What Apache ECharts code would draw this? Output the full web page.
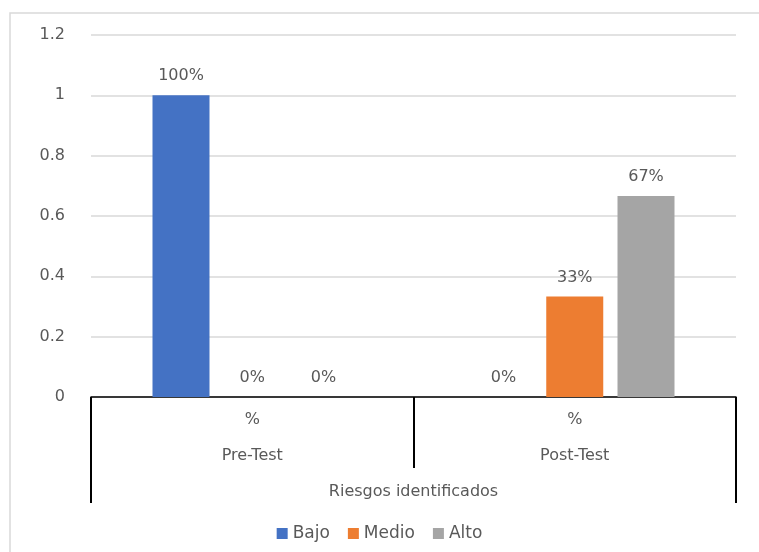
<!DOCTYPE html>
<html>
<head>
<meta charset="utf-8">
<script src="https://cdn.jsdelivr.net/npm/echarts@6/dist/echarts.min.js"></script>
<style>
  html, body { margin: 0; padding: 0; background: #fff; }
  #main { width: 759px; height: 552px; }
</style>
</head>
<body>
<div id="main"></div>
<script>
var grupos = ['Pre-Test', 'Post-Test'];
var nivel = '%';
var titulo = 'Riesgos identificados';
var bajo = [1, 0];
var medio = [0, 0.3333];
var alto = [0, 0.6667];

var txt = '#595959';
var fuente = 'DejaVu Sans';

function serie(nombre, datos, color) {
    return {
        name: nombre,
        type: 'bar',
        data: datos,
        barWidth: 57,
        barGap: '25%',
        itemStyle: { color: color },
        label: {
            show: true,
            position: 'top',
            distance: 11,
            color: txt,
            fontFamily: fuente,
            fontSize: 16,
            formatter: function (p) { return Math.round(p.value * 100) + '%'; }
        }
    };
}

var chart = echarts.init(document.getElementById('main'));
var option = {
    animation: false,
    textStyle: { fontFamily: fuente },
    graphic: [{
        type: 'rect',
        shape: { x: 10, y: 13, width: 800, height: 600 },
        style: { fill: 'none', stroke: '#d9d9d9', lineWidth: 1.5 },
        silent: true
    }],
    grid: { left: 91, right: 23, top: 35, bottom: 155 },
    legend: {
        top: 520,
        left: 'center',
        icon: 'rect',
        itemWidth: 11,
        itemHeight: 11,
        itemGap: 18,
        textStyle: { color: txt, fontSize: 17, fontFamily: fuente },
        data: ['Bajo', 'Medio', 'Alto']
    },
    xAxis: [
        {
            type: 'category',
            data: grupos,
            axisLine: { lineStyle: { color: '#000', width: 1.5 } },
            axisTick: { show: true, length: 71, lineStyle: { color: '#000', width: 2 } },
            axisLabel: {
                margin: 5,
                formatter: function (v) { return '{a|' + nivel + '}\n{a|' + v + '}'; },
                rich: {
                    a: { color: txt, fontSize: 16, fontFamily: fuente, lineHeight: 36 }
                }
            }
        },
        {
            type: 'category',
            data: [titulo],
            position: 'bottom',
            axisLine: { show: false },
            axisTick: { show: true, length: 106, lineStyle: { color: '#000', width: 2 } },
            axisLabel: { margin: 87, color: txt, fontSize: 16, fontFamily: fuente },
            splitLine: { show: false }
        }
    ],
    yAxis: {
        type: 'value',
        min: 0,
        max: 1.2,
        interval: 0.2,
        axisLine: { show: false },
        axisTick: { show: false },
        axisLabel: { margin: 26, color: txt, fontSize: 16, fontFamily: fuente },
        splitLine: { lineStyle: { color: '#d9d9d9', width: 1.5 } }
    },
    series: [
        serie('Bajo', bajo, '#4472C4'),
        serie('Medio', medio, '#ED7D31'),
        serie('Alto', alto, '#A5A5A5')
    ]
};
chart.setOption(option);
</script>
</body>
</html>
